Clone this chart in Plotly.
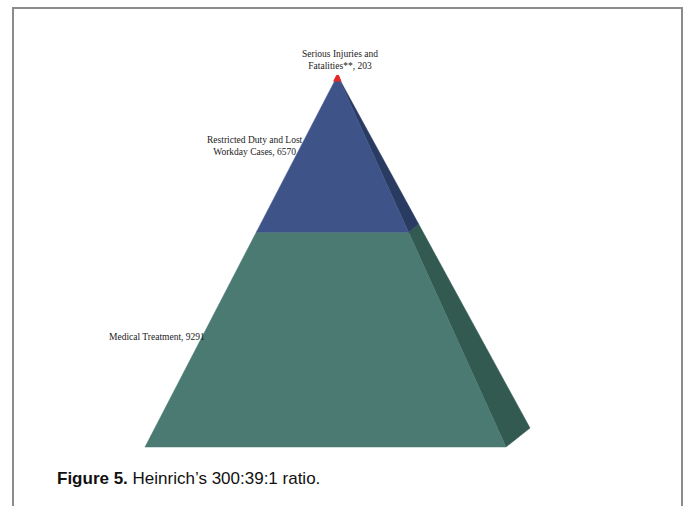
import plotly.graph_objects as go

# Data (top of pyramid first)
categories = ["Serious Injuries and<br>Fatalities**", "Restricted Duty and Lost<br>Workday Cases", "Medical Treatment"]
values = [203, 6570, 9291]
front_colors = ["#E42A25", "#3E5388", "#4A7A72"]
side_colors = ["#C8231F", "#2A3B62", "#335A51"]
edge_widths = [2.5, 0.5, 0.5]

# pyramid geometry (axis units = pixels)
APEX = (337.5, 75.5)
FL = (145.0, 447.0)
FR = (506.0, 447.0)
BR = (530.0, 428.0)

def lerp(p, q, t):
    return (p[0] + (q[0] - p[0]) * t, p[1] + (q[1] - p[1]) * t)

total = sum(values)
cum = [0.0]
for v in values:
    cum.append(cum[-1] + v / total)

fig = go.Figure()
order = [2, 1, 0]  # draw bottom first so the red tip sits on top
for i in order:
    ta, tb = cum[i], cum[i + 1]
    # side face
    pts = [lerp(APEX, FR, ta), lerp(APEX, BR, ta), lerp(APEX, BR, tb), lerp(APEX, FR, tb)]
    fig.add_trace(go.Scatter(x=[p[0] for p in pts] + [pts[0][0]], y=[p[1] for p in pts] + [pts[0][1]],
                             mode="lines", fill="toself", fillcolor=side_colors[i],
                             line=dict(width=edge_widths[i], color=side_colors[i]), hoverinfo="skip", showlegend=False))
    # front face
    pts = [lerp(APEX, FL, ta), lerp(APEX, FR, ta), lerp(APEX, FR, tb), lerp(APEX, FL, tb)]
    fig.add_trace(go.Scatter(x=[p[0] for p in pts] + [pts[0][0]], y=[p[1] for p in pts] + [pts[0][1]],
                             mode="lines", fill="toself", fillcolor=front_colors[i],
                             line=dict(width=edge_widths[i], color=front_colors[i]), hoverinfo="skip", showlegend=False))

label_pos = [(340, 60, "center"), (255, 146, "center"), (157, 337, "center")]
for (cat, v, (lx, ly, al)) in zip(categories, values, label_pos):
    fig.add_annotation(x=lx, y=ly, text=f"{cat}, {v}", showarrow=False, align=al,
                       font=dict(family="Liberation Serif, Times New Roman, serif", size=9.5, color="#222"))

fig.add_annotation(x=55, y=478, xanchor="left", yanchor="middle", showarrow=False,
                   text="<b>Figure 5.</b> Heinrich\u2019s 300:39:1 ratio.",
                   font=dict(family="Liberation Sans, Arial, sans-serif", size=17, color="#111"))

fig.add_shape(type="rect", x0=13, x1=682, y0=8, y1=530, line=dict(color="#8c8c8c", width=2))

fig.update_layout(width=685, height=506, margin=dict(l=0, r=0, t=0, b=0),
                  paper_bgcolor="white", plot_bgcolor="white",
                  xaxis=dict(range=[0, 685], visible=False, fixedrange=True),
                  yaxis=dict(range=[506, 0], visible=False, fixedrange=True))
fig.write_html("out.html")
